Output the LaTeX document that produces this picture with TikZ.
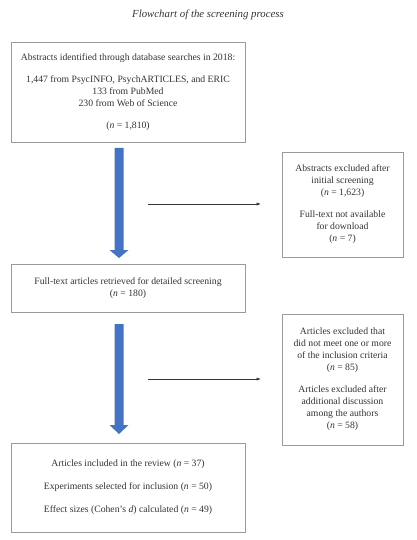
\documentclass[tikz,border=0pt]{standalone}
\usepackage{fontspec}
\setmainfont{Liberation Serif}
\usetikzlibrary{arrows.meta}
\definecolor{bluearr}{HTML}{4472C4}
\definecolor{boxgray}{HTML}{9A9A9A}
\definecolor{txt}{HTML}{333333}
\begin{document}
\begin{tikzpicture}[x=1pt,y=-1pt,
  box/.style={draw=boxgray,line width=0.6pt,align=center,font=\fontsize{9.7}{12}\selectfont,text=txt,inner sep=0pt},
  bigarrow/.style={fill=bluearr,draw=none},
  thin/.style={-{Latex[length=4pt,width=3pt]},line width=0.4pt,draw=txt}]
\useasboundingbox (0,0) rectangle (416,540);
\node[font=\fontsize{10.8}{12}\selectfont\itshape,text=txt] (title) at (208,15) {Flowchart of the screening process};
% boxes
\node[box,minimum width=234pt,minimum height=100pt] (b1) at (128,92) {Abstracts identified through database searches in 2018:\\[10pt]1,447 from PsycINFO, PsychARTICLES, and ERIC\\133 from PubMed\\230 from Web of Science\\[10pt](\textit{n} = 1,810)};
\node[box,minimum width=121pt,minimum height=105pt] (b2) at (342.5,204.5) {Abstracts excluded after\\initial screening\\(\textit{n} = 1,623)\\[10pt]Full-text not available\\for download\\(\textit{n} = 7)};
\node[box,minimum width=234pt,minimum height=48pt] (b3) at (128,288) {Full-text articles retrieved for detailed screening\\(\textit{n} = 180)};
\node[box,minimum width=121pt,minimum height=131pt] (b4) at (342.5,379.5) {Articles excluded that\\did not meet one or more\\of the inclusion criteria\\(\textit{n} = 85)\\[10pt]Articles excluded after\\additional discussion\\among the authors\\(\textit{n} = 58)};
\node[box,minimum width=234pt,minimum height=89pt] (b5) at (128,487.5) {Articles included in the review (\textit{n} = 37)\\[11pt]Experiments selected for inclusion (\textit{n} = 50)\\[11pt]Effect sizes (Cohen’s \textit{d}) calculated (\textit{n} = 49)};
% big arrows
\fill[bigarrow] (114.5,148) -- (123.5,148) -- (123.5,250) -- (128.5,250) -- (119,258) -- (109.5,250) -- (114.5,250) -- cycle;
\fill[bigarrow] (114.5,324) -- (123.5,324) -- (123.5,425) -- (128.5,425) -- (119,434) -- (109.5,425) -- (114.5,425) -- cycle;
% thin arrows
\coordinate (t1s) at (148,204);
\coordinate (t2s) at (148,379);
\draw[thin] (t1s) -- ([xshift=-21pt]t1s -| b2.west);
\draw[thin] (t2s) -- ([xshift=-21pt]t2s -| b4.west);
\end{tikzpicture}
\end{document}
